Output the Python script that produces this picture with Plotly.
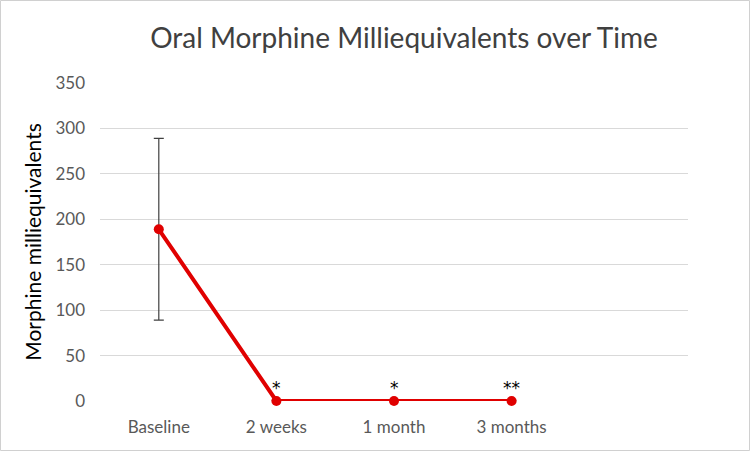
import plotly.graph_objects as go

categories = ["Baseline", "2 weeks", "1 month", "3 months"]
values = [189, 0, 0, 0]
err_plus = [100, 0, 0, 0]
significance = ["", "*", "*", "**"]
y_ticks = [0, 50, 100, 150, 200, 250, 300, 350]

W, H = 750, 451
L, R, T, B = 100, 62, 83, 50
pw, ph = W - L - R, H - T - B

fig = go.Figure()
fig.add_trace(go.Scatter(
    x=categories, y=values, mode="lines+markers",
    line=dict(color="#E00000", width=4),
    marker=dict(color="#E00000", size=10),
    error_y=dict(type="data", array=err_plus, visible=True,
                 color="#404040", thickness=1.2, width=5),
    showlegend=False, cliponaxis=False,
))

for c, v, s in zip(categories, values, significance):
    if s:
        fig.add_annotation(x=c, y=v, text=s, showarrow=False,
                           yanchor="bottom", yshift=1,
                           font=dict(family="DejaVu Sans, Arial", size=17, color="#000000"))

fig.add_shape(type="rect", xref="paper", yref="paper",
              x0=-(L - 0.5) / pw, x1=1 + (R - 0.5) / pw,
              y0=-(B - 0.5) / ph, y1=1 + (T - 0.5) / ph,
              line=dict(color="#D0D0D0", width=1), layer="below")

fig.update_layout(
    width=W, height=H,
    margin=dict(l=L, r=R, t=T, b=B),
    paper_bgcolor="white", plot_bgcolor="white",
    font=dict(family="Lato, Arial", color="#595959"),
    title=dict(text="Oral Morphine Milliequivalents over Time",
               x=404 / W, xanchor="center", xref="container",
               y=1 - 38 / H, yanchor="middle", yref="container",
               font=dict(size=28, color="#404040")),
    xaxis=dict(type="category", categoryorder="array",
               categoryarray=categories + [" "],
               range=[-0.5, 4.5], showgrid=False, showline=False,
               zeroline=False, ticks="", tickfont=dict(size=17, color="#595959"),
               ticklabelstandoff=14),
    yaxis=dict(range=[0, 350], tickvals=y_ticks, showgrid=True,
               gridcolor="#D9D9D9", gridwidth=1, zeroline=False,
               showline=False, ticks="", tickfont=dict(size=17, color="#595959"),
               ticklabelstandoff=14,
               title=dict(text="Morphine milliequivalents",
                          font=dict(size=21, color="#000000"), standoff=8)),
)

fig.write_html("out.html")
